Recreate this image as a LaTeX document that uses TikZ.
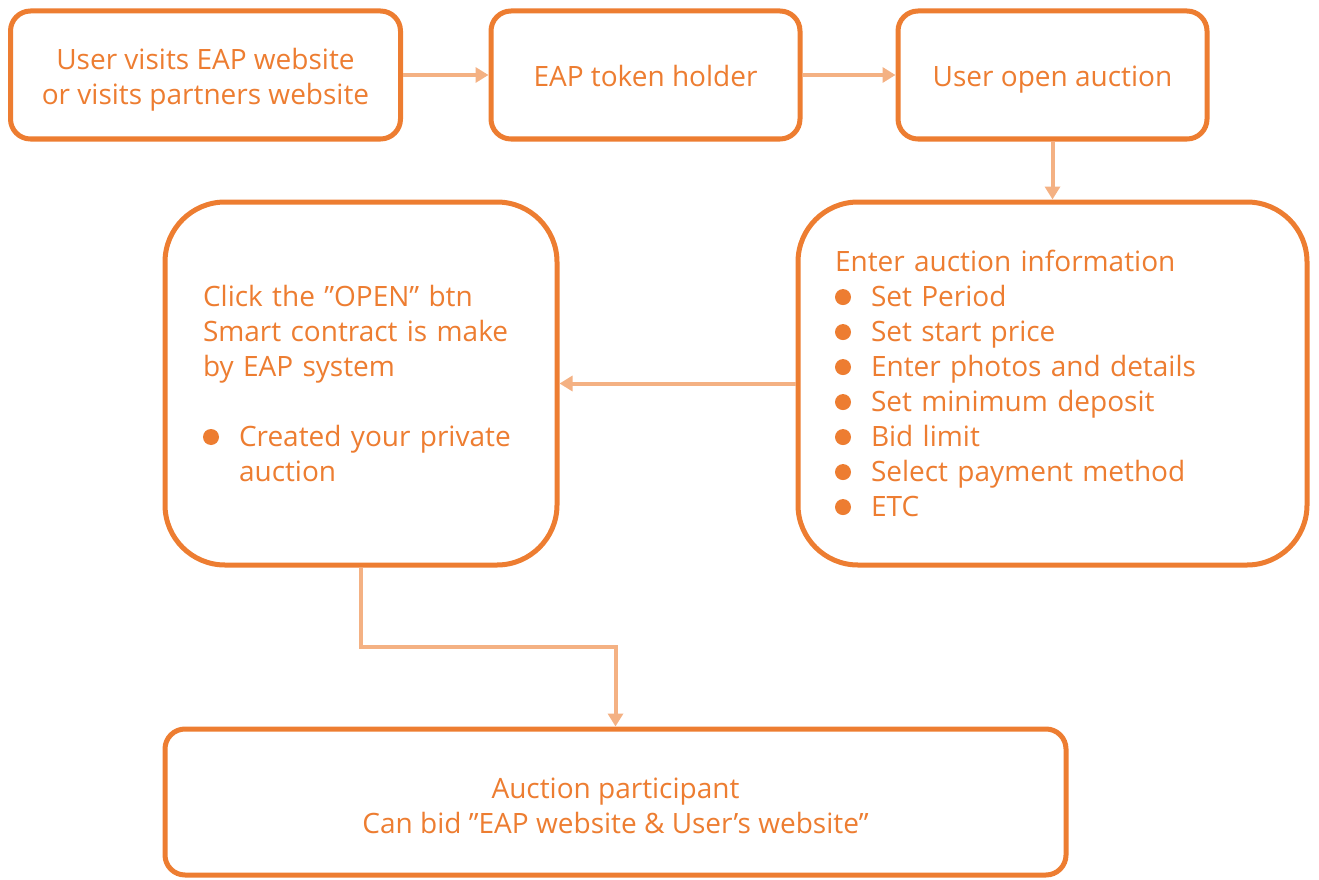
\documentclass[tikz,border=0pt]{standalone}
\usepackage{fontspec}
\setmainfont{Open Sans}
\usetikzlibrary{arrows.meta}
\definecolor{eaporange}{HTML}{ED7D31}
\definecolor{eaplight}{HTML}{F4B183}
\newsavebox\bulbox
\sbox\bulbox{\tikz\fill[eaporange] (0,0) circle (8pt);}
\newcommand\bul{\makebox[36pt][l]{\raisebox{1.5pt}{\usebox\bulbox}}}
\newcommand\clines[2][0pt]{\raisebox{#1}[\height][\depth]{\begin{tabular}{@{}c@{}}#2\end{tabular}}}
\begin{document}
\begin{tikzpicture}[x=1pt,y=-1pt,
  box/.style={draw=eaporange, line width=5pt, rounded corners=20pt, fill=white,
    text=eaporange, font=\fontsize{28}{35}\selectfont, inner sep=0pt, align=center},
  bigbox/.style={box, rounded corners=60pt},
  conn/.style={draw=eaplight, line width=4pt, -{Triangle[length=13pt,width=15pt]}}]
\useasboundingbox (0,0) rectangle (1319,880);
\node[box, minimum width=390pt, minimum height=128pt] (b1) at (205.5,75)
  {\clines[-5pt]{User visits EAP website\\or visits partners website}};
\node[box, minimum width=309pt, minimum height=128pt] (b2) at (645.5,75) {\clines[-5pt]{EAP token holder}};
\node[box, minimum width=309pt, minimum height=128pt] (b3) at (1052.5,75) {\clines[-5pt]{User open auction}};
\node[bigbox, minimum width=392pt, minimum height=363pt, text width=316pt, align=left] (b4) at (361,383.5)
  {Click the ”OPEN” btn\\Smart contract is make\\by EAP system\\[35pt]\bul Created your private\\\hspace*{36pt}auction};
\node[bigbox, minimum width=509pt, minimum height=363pt, text width=435pt, align=left] (b5) at (1052.5,383.5)
  {Enter auction information\\\bul Set Period\\\bul Set start price\\\bul Enter photos and details\\\bul Set minimum deposit\\\bul Bid limit\\\bul Select payment method\\\bul ETC};
\node[box, minimum width=901pt, minimum height=146pt] (b6) at (615.5,802)
  {\clines[-7pt]{Auction participant\\Can bid ”EAP website \& User’s website”}};
\draw[conn] (b1.east) -- (b2.west);
\draw[conn] (b2.east) -- (b3.west);
\draw[conn] (b3.south) -- (b5.north);
\draw[conn] (b5.west) -- (b4.east);
\coordinate (bend) at (361,647);
\draw[conn] (b4.south) -- (bend) -| (b6.north);
\end{tikzpicture}
\end{document}
